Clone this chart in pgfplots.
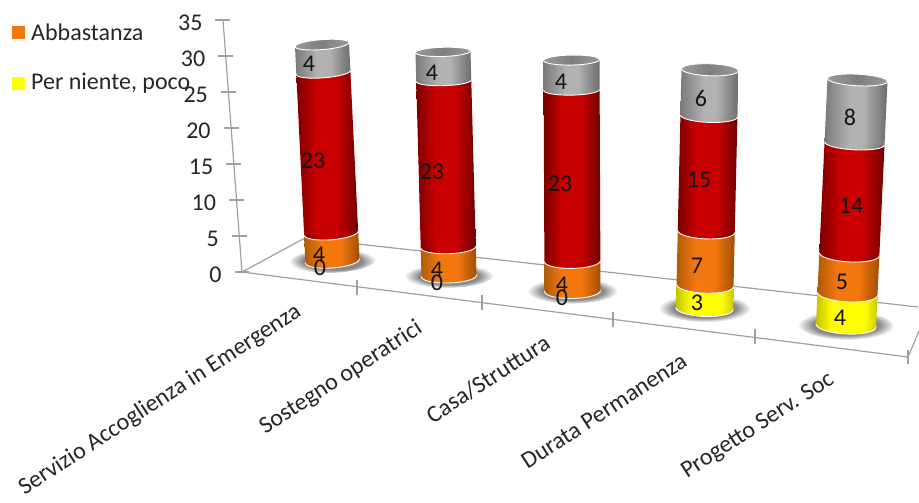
\documentclass[border=0pt]{standalone}
\usepackage{fontspec}
\setmainfont{Carlito}
\usepackage{pgfplots}
\pgfplotsset{compat=1.18}

% Colours of the cylinder faces, from the shaded edge to the lit middle
\definecolor{redA}{HTML}{7C0000}\definecolor{redB}{HTML}{C80000}\definecolor{redC}{HTML}{700000}
\definecolor{orA}{HTML}{B05A08}\definecolor{orB}{HTML}{F2780E}\definecolor{orC}{HTML}{A04E04}
\definecolor{yeA}{HTML}{C4C400}\definecolor{yeB}{HTML}{FFFF00}\definecolor{yeC}{HTML}{C8C800}
\definecolor{grA}{HTML}{7A7A7A}\definecolor{grB}{HTML}{B2B2B2}\definecolor{grC}{HTML}{6C6C6C}
\definecolor{capA}{HTML}{9A9A9A}\definecolor{capB}{HTML}{7E7E7E}
\definecolor{rule}{HTML}{A0A0A0}
\definecolor{ink}{HTML}{262626}
\definecolor{dataink}{HTML}{141414}

\pgfdeclarehorizontalshading{cylred}{100bp}{color(0bp)=(redA);color(25bp)=(redA);color(41bp)=(redB);color(58bp)=(redB);color(75bp)=(redC);color(100bp)=(redC)}
\pgfdeclarehorizontalshading{cylorange}{100bp}{color(0bp)=(orA);color(25bp)=(orA);color(41bp)=(orB);color(58bp)=(orB);color(75bp)=(orC);color(100bp)=(orC)}
\pgfdeclarehorizontalshading{cylyellow}{100bp}{color(0bp)=(yeA);color(25bp)=(yeA);color(38bp)=(yeB);color(65bp)=(yeB);color(75bp)=(yeC);color(100bp)=(yeC)}
\pgfdeclarehorizontalshading{cylgray}{100bp}{color(0bp)=(grA);color(25bp)=(grA);color(45bp)=(grB);color(56bp)=(grB);color(75bp)=(grC);color(100bp)=(grC)}
\pgfdeclarehorizontalshading{cylcap}{100bp}{color(0bp)=(capA);color(25bp)=(capA);color(50bp)=(capB);color(75bp)=(capA);color(100bp)=(capA)}
\pgfdeclareradialshading{cylshadow}{\pgfpoint{0bp}{0bp}}{color(0bp)=(black!50);color(17bp)=(black!46);color(25bp)=(white);color(50bp)=(white)}

% Ellipse of a cylinder section; its half axes come from the current cylinder
\def\cylrx{27pt}\def\cyltilt{0pt}\def\capry{7pt}\def\capshade{cylgray}
\pgfdeclareplotmark{cylsection}{%
  \pgfpathellipse{\pgfpointorigin}{\pgfpoint{\cylrx}{\cyltilt}}{\pgfpoint{0pt}{\capry}}%
  \pgfshadepath{\capshade}{0}%
  \pgfsetstrokecolor{white}\pgfsetlinewidth{0.9pt}\pgfusepath{stroke}}
% Soft shadow on the floor below a cylinder
\pgfdeclareplotmark{cylfloor}{%
  \pgfpathellipse{\pgfpointorigin}{\pgfpoint{1.62*\cylrx}{\cyltilt}}{\pgfpoint{0pt}{1.7*\capry}}%
  \pgfshadepath{cylshadow}{0}\pgfusepath{discard}}

\pgfplotsset{
  cylinder axis/.style n args={6}{
    at={(#1pt,-#2pt)}, anchor=origin, hide axis, clip mode=individual,
    x={(#5pt,#6pt)}, y={(#3pt,#4pt)},
    xmin=-2, xmax=2, ymin=-3, ymax=34, stack plots=y, reverse stacked plots=false,
  },
  section/.style n args={2}{mark=cylsection,
    mark options={/utils/exec={\def\capry{#1pt}\def\capshade{#2}}}},
}

% Floor of a cylinder: shadow and lowest section
\newcommand{\cylbase}[2]{%
  \addplot[stack plots=false, draw=none, mark=cylfloor, mark options={/utils/exec={\def\capry{#1pt}}}] coordinates {(0,0)};
  \addplot[draw=none, section={#1}{#2}, mark indices={2}] coordinates {(-1,0) (0,0) (1,0)};
}
% One stacked segment: value, face shading, ellipse above (radius, shading), label shift
\newcommand{\segment}[6]{%
  \addplot[draw=none, shade, shading=#2, section={#3}{#4}, mark indices={2},
    nodes near coords, point meta=explicit symbolic,
    every node near coord/.style={anchor=center, xshift=#5pt, yshift=#6pt,
      font=\fontsize{24}{24}\selectfont, text=dataink}]
    coordinates {(-1,#1)[] (0,#1)[#1] (1,#1)[]} \closedcycle;
}
% Value label of an empty series, set over the faces
\newcommand{\zerolabel}[2]{%
  \addplot[stack plots=false, draw=none, mark=none,
    nodes near coords, point meta=explicit symbolic,
    every node near coord/.style={anchor=center, xshift=#1pt, yshift=#2pt,
      font=\fontsize{24}{24}\selectfont, text=dataink}]
    coordinates {(0,0)[0]};
}

\begin{document}
\begin{tikzpicture}
\path[use as bounding box] (0,-503pt) rectangle (919pt,0pt);

% Floor, legend and category names, in a frame measured from the top left corner
\begin{axis}[at={(0pt,0pt)}, anchor=origin, hide axis, clip=false,
  x={(1pt,0pt)}, y={(0pt,-1pt)}, xmin=0, xmax=919, ymin=0, ymax=503]
  \addplot[rule, line width=1.2pt, mark=none] coordinates {(242,272) (908,357) (919,331)};
  \addplot[rule, line width=1.2pt, mark=none] coordinates {(242,272) (305,238) (918,307)};
  \addplot[rule, line width=1.2pt, mark=none] coordinates {(357,280) (357,295)};
  \addplot[rule, line width=1.2pt, mark=none] coordinates {(482,295) (482,310)};
  \addplot[rule, line width=1.2pt, mark=none] coordinates {(613,312) (613,327)};
  \addplot[rule, line width=1.2pt, mark=none] coordinates {(755,329) (755,344)};
  \addplot[rule, line width=1.2pt, mark=none] coordinates {(908,350) (908,364)};
  \addplot[only marks, mark=square*, mark size=6pt, color=orB] coordinates {(18,32)};
  \addplot[only marks, mark=square*, mark size=6pt, color=yeB] coordinates {(18,83)};
  \node[anchor=west, inner sep=0pt, text=ink, font=\fontsize{24}{24}\selectfont] at (axis cs:31,32) {Abbastanza};
  \node[anchor=west, inner sep=0pt, text=ink, font=\fontsize{24}{24}\selectfont] at (axis cs:31,83) {Per niente, poco};
  \node[rotate=33, text=ink, font=\fontsize{24}{24}\selectfont] at (axis cs:160,400) {Servizio Accoglienza in Emergenza};
  \node[rotate=33, text=ink, font=\fontsize{24}{24}\selectfont] at (axis cs:341,378) {Sostegno operatrici};
  \node[rotate=33, text=ink, font=\fontsize{24}{24}\selectfont] at (axis cs:488,379) {Casa/Struttura};
  \node[rotate=33, text=ink, font=\fontsize{24}{24}\selectfont] at (axis cs:604,411) {Durata Permanenza};
  \node[rotate=33, text=ink, font=\fontsize{24}{24}\selectfont] at (axis cs:758,426) {Progetto Serv. Soc};
\end{axis}

% Value axis, leaning with the view
\begin{axis}[at={(242pt,-272pt)}, anchor=origin, clip=false,
  x={(1pt,0pt)}, y={(-0.543pt,7.2pt)}, xmin=0, xmax=1, ymin=0, ymax=35,
  axis x line=none, axis y line=left, axis line style={rule, line width=1.2pt, -},
  ytick={0,5,...,35}, tick align=center, major tick length=15pt,
  y tick style={rule, line width=1.2pt},
  /pgf/number format/assume math mode=true,
  yticklabel style={anchor=east, text=ink, font=\fontsize{24}{24}\selectfont, xshift=-9.5pt, yshift=-2.5pt},
]
  \addplot[draw=none] coordinates {(0,0) (0,35)};
\end{axis}

% Servizio Accoglienza in Emergenza: 0, 4, 23, 4
\def\cylrx{27pt}\def\cyltilt{2pt}
\begin{axis}[cylinder axis={332.5}{261}{-0.339}{6.98}{27}{2}]
  \cylbase{7}{cylorange}
  \segment{4}{cylorange}{6.7}{cylred}{-12.1}{-21.9}
  \segment{23}{cylred}{5.3}{cylgray}{-10.3}{-88.5}
  \segment{4}{cylgray}{5}{cylcap}{-13}{-19.4}
  \zerolabel{-12.5}{-7}
\end{axis}

% Sostegno operatrici: 0, 4, 23, 4
\def\cylrx{27.5pt}\def\cyltilt{0.8pt}
\begin{axis}[cylinder axis={449}{276}{-0.194}{7.23}{27.5}{0.8}]
  \cylbase{7}{cylorange}
  \segment{4}{cylorange}{6.7}{cylred}{-11.2}{-22.9}
  \segment{23}{cylred}{4.9}{cylgray}{-11.8}{-91.2}
  \segment{4}{cylgray}{4.6}{cylcap}{-11}{-21.1}
  \zerolabel{-12}{-7}
\end{axis}

% Casa/Struttura: 0, 4, 23, 4
\def\cylrx{28pt}\def\cyltilt{0.5pt}
\begin{axis}[cylinder axis={572.5}{291}{-0.032}{7.45}{28}{0.5}]
  \cylbase{7.5}{cylorange}
  \segment{4}{cylorange}{7.2}{cylred}{-10.4}{-23.8}
  \segment{23}{cylred}{5.3}{cylgray}{-11.6}{-94.1}
  \segment{4}{cylgray}{5}{cylcap}{-10.5}{-22}
  \zerolabel{-10.5}{-7}
\end{axis}

% Durata Permanenza: 3, 7, 15, 6
\def\cylrx{28.5pt}\def\cyltilt{-1pt}
\begin{axis}[cylinder axis={704.5}{308.5}{0.177}{7.7}{28.5}{-1}]
  \cylbase{8}{cylyellow}
  \segment{3}{cylyellow}{7.8}{cylorange}{-8}{-17.6}
  \segment{7}{cylorange}{7.4}{cylred}{-9.3}{-34.5}
  \segment{15}{cylred}{6.4}{cylgray}{-9.9}{-64}
  \segment{6}{cylgray}{6}{cylcap}{-9}{-28.2}
\end{axis}

% Progetto Serv. Soc: 4, 5, 14, 8
\def\cylrx{30pt}\def\cyltilt{-1.5pt}
\begin{axis}[cylinder axis={846}{325.5}{0.371}{7.92}{30}{-1.5}]
  \cylbase{8.5}{cylyellow}
  \segment{4}{cylyellow}{8.1}{cylorange}{-7.5}{-24.2}
  \segment{5}{cylorange}{7.7}{cylred}{-7.3}{-27.8}
  \segment{14}{cylred}{6.5}{cylgray}{-3.5}{-62.7}
  \segment{8}{cylgray}{5.8}{cylcap}{-7.5}{-37}
\end{axis}
\end{tikzpicture}
\end{document}
